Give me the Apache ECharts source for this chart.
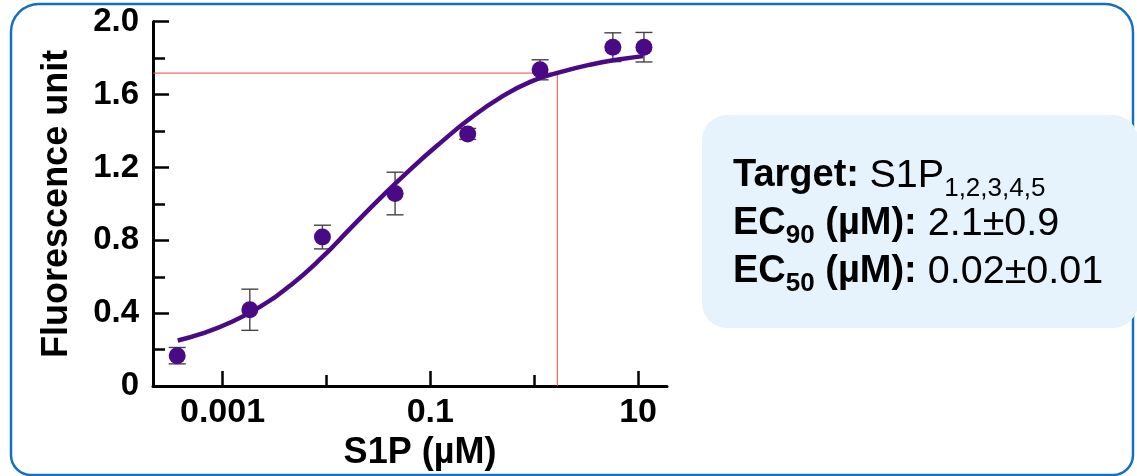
<!DOCTYPE html>
<html>
<head>
<meta charset="utf-8">
<script src="https://cdn.jsdelivr.net/npm/echarts@6/dist/echarts.min.js"></script>
<style>
  html, body { margin: 0; padding: 0; background: #fff; }
  #chart { width: 1137px; height: 476px; }
</style>
</head>
<body>
<div id="chart"></div>
<script>
// S1P concentration (µM) and measured response
let conc = [0.000366, 0.00183, 0.00915, 0.0458, 0.229, 1.14, 5.72, 11.4];
let resp = [0.167, 0.419, 0.818, 1.057, 1.384, 1.736, 1.86, 1.86];
let errs = [0.045, 0.113, 0.065, 0.117, 0.03, 0.055, 0.079, 0.081];

// fitted curve
let curveX = [0.00037, 0.000619, 0.0012, 0.00233, 0.00453, 0.0088, 0.0171, 0.0332, 0.0644, 0.125, 0.243, 0.472, 0.916, 1.78, 3.45, 6.7, 11.2];
let curveY = [0.250, 0.286, 0.350, 0.438, 0.554, 0.699, 0.867, 1.033, 1.190, 1.335, 1.470, 1.583, 1.670, 1.723, 1.764, 1.794, 1.811];

// EC90 guide lines
let guideX = 1.67;
let guideY = 1.718;

let xMin = 0.000214;
let xMax = 19.0;
let xMajor = [0.001, 0.1, 10];
let xMinor = [0.01, 1];

const purple = '#4b0a85';
const font = '"Liberation Sans", Arial, sans-serif';

window.onload = function() {
    let myChart = echarts.init(document.getElementById('chart'));

    let points = conc.map((c, i) => [c, resp[i]]);
    let bars = conc.map((c, i) => [c, resp[i] - errs[i], resp[i] + errs[i]]);
    let curve = curveX.map((c, i) => [c, curveY[i]]);

    let option = {
        animation: false,
        grid: { left: 153, right: 470, top: 21.7, bottom: 83.5 },
        xAxis: [
            {
                type: 'log',
                min: xMin,
                max: xMax,
                name: 'S1P (µM)',
                nameLocation: 'middle',
                nameGap: 36,
                nameTextStyle: { fontFamily: font, fontWeight: 'bold', fontSize: 36, color: '#000', padding: [0, 0, 0, 20] },
                axisLine: { lineStyle: { color: '#000', width: 3 } },
                axisTick: { inside: true, length: 15, lineStyle: { color: '#000', width: 2.5 }, customValues: xMajor },
                axisLabel: {
                    customValues: xMajor,
                    margin: 10,
                    fontFamily: font, fontWeight: 'bold', fontSize: 34, color: '#000',
                    formatter: v => String(v)
                },
                splitLine: { show: false }
            },
            {
                type: 'log',
                min: xMin,
                max: xMax,
                position: 'bottom',
                axisLine: { show: false },
                axisTick: { inside: true, length: 11, lineStyle: { color: '#000', width: 2.5 }, customValues: xMinor },
                axisLabel: { show: false },
                splitLine: { show: false }
            }
        ],
        yAxis: {
            type: 'value',
            min: 0,
            max: 2,
            interval: 0.4,
            name: 'Fluorescence unit',
            nameLocation: 'middle',
            nameGap: 78,
            nameTextStyle: { fontFamily: font, fontWeight: 'bold', fontSize: 36, color: '#000' },
            axisLine: { show: true, lineStyle: { color: '#000', width: 3 } },
            axisTick: { show: true, inside: true, length: 16, lineStyle: { color: '#000', width: 2.5 } },
            minorTick: { show: true, splitNumber: 2, length: 12, lineStyle: { color: '#000', width: 2.5 } },
            axisLabel: {
                margin: 14,
                fontFamily: font, fontWeight: 'bold', fontSize: 33, color: '#000',
                formatter: v => v === 0 ? '0' : v.toFixed(1)
            },
            splitLine: { show: false }
        },
        graphic: [
            {
                type: 'rect',
                shape: { x: 11, y: 4, width: 1122, height: 471, r: [28, 28, 20, 20] },
                style: { fill: 'none', stroke: '#1570c4', lineWidth: 2.5 },
                z: 0
            },
            {
                type: 'rect',
                shape: { x: 702, y: 115, width: 436, height: 213, r: 25 },
                style: { fill: '#e6f2fc' },
                z: 0
            },
            {
                type: 'text',
                x: 733,
                y: 152,
                z: 1,
                style: {
                    text: '{b|Target: }{r|S1P}{rs|1,2,3,4,5}\n{b|EC}{bs|90}{b| (µM):}{r| 2.1±0.9}\n{b|EC}{bs|50}{b| (µM):}{r| 0.02±0.01}',
                    align: 'left',
                    verticalAlign: 'top',
                    fill: '#000',
                    rich: {
                        b: { fontFamily: font, fontWeight: 'bold', fontSize: 38, lineHeight: 48, fill: '#000' },
                        r: { fontFamily: font, fontSize: 39.5, lineHeight: 48, fill: '#000' },
                        rs: { fontFamily: font, fontSize: 26, lineHeight: 20, padding: [25, 0, 0, 0], fill: '#000' },
                        bs: { fontFamily: font, fontWeight: 'bold', fontSize: 26, lineHeight: 20, padding: [24, 0, 0, 0], fill: '#000' }
                    }
                }
            }
        ],
        series: [
            {
                type: 'line',
                data: [[xMin, guideY], [guideX, guideY], [guideX, 0]],
                symbol: 'none',
                lineStyle: { color: '#f04848', width: 1 },
                z: 1,
                silent: true
            },
            {
                type: 'custom',
                data: bars,
                z: 2,
                renderItem: function(params, api) {
                    let x = api.value(0);
                    let lo = api.coord([x, api.value(1)]);
                    let hi = api.coord([x, api.value(2)]);
                    let half = 8.5;
                    let st = { stroke: '#444', lineWidth: 1.4 };
                    return {
                        type: 'group',
                        children: [
                            { type: 'line', shape: { x1: lo[0], y1: lo[1], x2: hi[0], y2: hi[1] }, style: st },
                            { type: 'line', shape: { x1: lo[0] - half, y1: lo[1], x2: lo[0] + half, y2: lo[1] }, style: st },
                            { type: 'line', shape: { x1: hi[0] - half, y1: hi[1], x2: hi[0] + half, y2: hi[1] }, style: st }
                        ]
                    };
                }
            },
            {
                type: 'scatter',
                data: points,
                symbolSize: 17,
                itemStyle: { color: purple, opacity: 1 },
                z: 3
            },
            {
                type: 'line',
                data: curve,
                smooth: true,
                symbol: 'none',
                lineStyle: { color: purple, width: 4.5 },
                z: 4
            }
        ]
    };
    myChart.setOption(option);
};
</script>
</body>
</html>
